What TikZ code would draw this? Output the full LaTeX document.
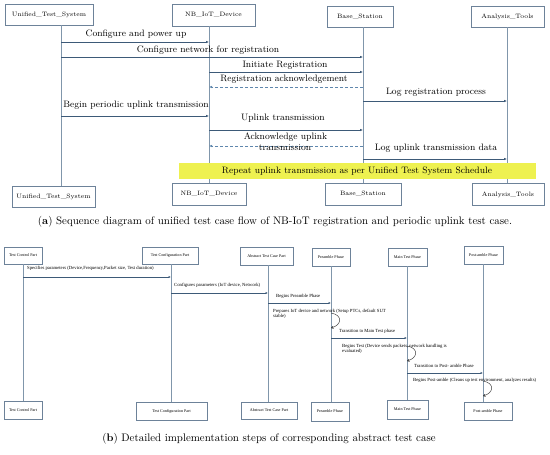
\documentclass[tikz,border=0pt]{standalone}
\usepackage{fontspec}
\newfontfamily\tinyserif{Liberation Serif}
\usetikzlibrary{arrows.meta}
\definecolor{boxline}{HTML}{6D8299}
\definecolor{lifeln}{HTML}{8096AB}
\definecolor{msgc}{HTML}{3D5A78}
\definecolor{dashc}{HTML}{5F87AD}
\definecolor{ybar}{HTML}{EEF150}
\begin{document}
\begin{tikzpicture}[x=1pt,y=-1pt,
  actor/.style={draw=boxline,line width=0.8pt,fill=white,inner sep=0pt,minimum height=21pt,font=\fontsize{6.3}{7}\selectfont},
  sactor/.style={draw=boxline,line width=0.6pt,fill=white,inner sep=0pt,minimum height=18pt,font=\tinyserif\fontsize{4.1}{4.5}\selectfont},
  life/.style={draw=lifeln,line width=0.8pt},
  slife/.style={draw=lifeln,line width=0.6pt},
  msg/.style={draw=msgc,line width=0.7pt,-{Latex[length=3pt,width=2.6pt]}},
  dmsg/.style={draw=dashc,line width=0.7pt,dash pattern=on 3pt off 2pt,-{Latex[length=3pt,width=2.6pt]}},
  smsg/.style={draw=msgc,line width=0.55pt,-{Latex[length=2.5pt,width=2.2pt]}},
  loopa/.style={draw=black!80,line width=0.45pt,-{Straight Barb[length=2pt,width=2.5pt]}},
  lbl/.style={inner sep=0pt,font=\fontsize{9.3}{10}\selectfont},
  slbl/.style={inner sep=0pt,anchor=west,align=left,font=\tinyserif\fontsize{4.7}{5.2}\selectfont},
  captext/.style={inner sep=0pt,font=\fontsize{10.9}{12}\selectfont}
]
\useasboundingbox (0,0) rectangle (550,455);
% ===== (a) =====
\node[actor,minimum width=88pt] (u1) at (49,14.5) {Unified\_Test\_System};
\node[actor,minimum width=83pt,minimum height=22pt] (n1) at (213.5,15) {NB\_IoT\_Device};
\node[actor,minimum width=66pt] (b1) at (360,16.5) {Base\_Station};
\node[actor,minimum width=73pt] (a1) at (507.5,16.5) {Analysis\_Tools};
\node[actor,minimum width=83pt] (u2) at (53.5,196.5) {Unified\_Test\_System};
\node[actor,minimum width=74pt,minimum height=22pt] (n2) at (209,194) {NB\_IoT\_Device};
\node[actor,minimum width=76pt,minimum height=22pt] (b2) at (363,194) {Base\_Station};
\node[actor,minimum width=72pt,minimum height=22pt] (a2) at (508,194.5) {Analysis\_Tools};
\coordinate (uL) at (61,0);
\coordinate (nL) at (209,0);
\coordinate (bL) at (363,0);
\coordinate (aL) at (507,0);
\draw[life] (uL |- u1.south) -- (uL |- u2.north);
\draw[life] (nL |- n1.south) -- (nL |- n2.north);
\draw[life] (bL |- b1.south) -- (bL |- b2.north);
\draw[life] (aL |- a1.south) -- (aL |- a2.north);
% messages
\draw[msg] (uL |- 0,42) -- (nL |- 0,42);
\node[lbl] (m1) at (136,34) {Configure and power up};
\draw[msg] (uL |- 0,57) -- (bL |- 0,57);
\node[lbl] (m2) at (208,50) {Configure network for registration};
\draw[msg] (nL |- 0,72) -- (bL |- 0,72);
\node[lbl] (m3) at (285,65) {Initiate Registration};
\draw[dmsg] (bL |- 0,87) -- (nL |- 0,87);
\node[lbl] (m4) at (284,79) {Registration acknowledgement};
\draw[msg] (bL |- 0,101) -- (aL |- 0,101);
\node[lbl] (m5) at (436,92) {Log registration process};
\draw[msg] (uL |- 0,116) -- (nL |- 0,116);
\node[lbl] (m6) at (136,105) {Begin periodic uplink transmission};
\draw[msg] (nL |- 0,130) -- (bL |- 0,130);
\node[lbl] (m7) at (283,118) {Uplink transmission};
\draw[dmsg] (bL |- 0,146) -- (nL |- 0,146);
\node[lbl] (m8a) at (285.5,137) {Acknowledge uplink};
\node[lbl] (m8b) at (285,147) {transmission};
\draw[msg] (bL |- 0,159) -- (aL |- 0,159);
\node[lbl] (m9) at (436,148) {Log uplink transmission data};
\node[fill=ybar,inner sep=0pt,minimum width=357pt,minimum height=16pt,font=\fontsize{9.3}{10}\selectfont] (rep) at (357,171) {Repeat uplink transmission as per Unified Test System Schedule};
\node[captext] (capa) at (275,222) {(\textbf{a}) Sequence diagram of unified test case flow of NB-IoT registration and periodic uplink test case.};
% ===== (b) =====
\node[sactor,minimum width=38pt,minimum height=17pt] (tc1) at (23,255.5) {Test Control Part};
\node[sactor,minimum width=56pt,minimum height=17pt] (cf1) at (170,255.5) {Test Configuration Part};
\node[sactor,minimum width=53pt] (at1) at (266.5,256) {Abstract Test Case Part};
\node[sactor,minimum width=38pt] (pr1) at (331,257) {Preamble Phase};
\node[sactor,minimum width=39pt] (mt1) at (407.5,257) {Main Test Phase};
\node[sactor,minimum width=39pt] (pa1) at (483.5,255) {Post-amble Phase};
\node[sactor,minimum width=38pt] (tc2) at (23,410) {Test Control Part};
\node[sactor,minimum width=71pt] (cf2) at (171.5,411) {Test Configuration Part};
\node[sactor,minimum width=56pt,minimum height=17pt] (at2) at (269,410.5) {Abstract Test Case Part};
\node[sactor,minimum width=38pt,minimum height=19pt] (pr2) at (330,411.5) {Preamble Phase};
\node[sactor,minimum width=41pt,minimum height=19pt] (mt2) at (407.5,409.5) {Main Test Phase};
\node[sactor,minimum width=48pt] (pa2) at (488,411) {Post-amble Phase};
\coordinate (tL) at (23,0);
\coordinate (cL) at (171,0);
\coordinate (sL) at (268,0);
\coordinate (pL) at (331,0);
\coordinate (mL) at (407,0);
\coordinate (qL) at (483,0);
\draw[slife] (tL |- tc1.south) -- (tL |- tc2.north);
\draw[slife] (cL |- cf1.south) -- (cL |- cf2.north);
\draw[slife] (sL |- at1.south) -- (sL |- at2.north);
\draw[slife] (pL |- pr1.south) -- (pL |- pr2.north);
\draw[slife] (mL |- mt1.south) -- (mL |- mt2.north);
\draw[slife] (qL |- pa1.south) -- (qL |- pa2.north);
\draw[smsg] (tL |- 0,277) -- (cL |- 0,277);
\node[slbl] (s1) at (27,268) {Specifies parameters (Device,Frequency,Packet size, Test duration)};
\draw[smsg] (cL |- 0,293) -- (sL |- 0,293);
\node[slbl] (s2) at (174,285) {Configures parameters (IoT device, Network)};
\draw[smsg] (sL |- 0,303) -- (pL |- 0,303);
\node[slbl] (s3) at (276,296) {Begins Preamble Phase};
\node[slbl] (s4) at (273,313.5) {Prepares IoT device and network (Setup PTCs, default SUT\\stable)};
\draw[loopa] (pL |- 0,313) .. controls (343,315) and (342,325) .. (pL |- 0,328);
\draw[smsg] (pL |- 0,338) -- (mL |- 0,338);
\node[slbl] (s5) at (339,331) {Transition to Main Test phase};
\node[slbl] (s6) at (342,348.5) {Begins Test (Device sends packets, network handling is\\evaluated)};
\draw[loopa] (mL |- 0,346) .. controls (419,348) and (418,358) .. (mL |- 0,361);
\draw[smsg] (mL |- 0,373) -- (qL |- 0,373);
\node[slbl] (s7) at (414,366) {Transition to Post- amble Phase};
\node[slbl] (s8) at (413,380) {Begins Post-amble (Cleans up test environment, analyzes results)};
\draw[loopa] (qL |- 0,381) .. controls (495,383) and (494,393) .. (qL |- 0,396);
\node[captext] (capb) at (269,439) {(\textbf{b}) Detailed implementation steps of corresponding abstract test case};
\end{tikzpicture}
\end{document}
